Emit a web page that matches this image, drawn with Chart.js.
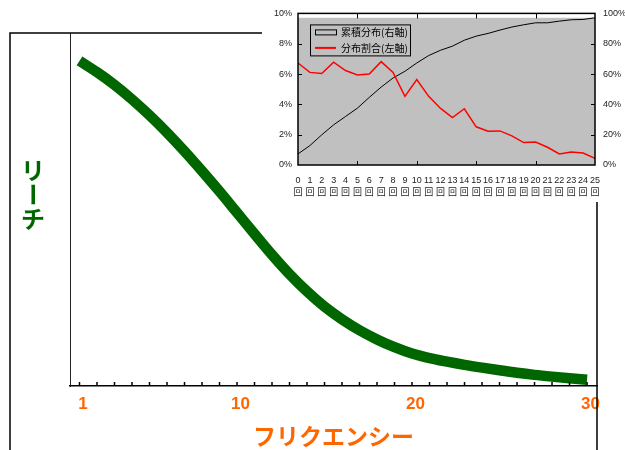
<!DOCTYPE html>
<html>
<head>
<meta charset="utf-8">
<script src="https://cdn.jsdelivr.net/npm/chart.js@4.4.1/dist/chart.umd.min.js"></script>
<style>
  html, body { margin: 0; padding: 0; background: #fff; }
  #wrap { position: relative; width: 625px; height: 450px; overflow: hidden; }
  #mainBox { position: absolute; left: 0; top: 0; width: 625px; height: 450px; }
  #insetBox { position: absolute; left: 262px; top: 0; width: 363px; height: 202px; background: #fff; }
</style>
</head>
<body>
<div id="wrap">
  <div id="mainBox"><canvas id="reachChart"></canvas></div>
  <div id="insetBox"><canvas id="distChart"></canvas></div>
</div>
<script>
// main chart: reach by frequency
var frequency = [1, 2, 3, 4, 5, 6, 7, 8, 9, 10, 11, 12, 13, 14, 15,
                 16, 17, 18, 19, 20, 21, 22, 23, 24, 25, 26, 27, 28, 29, 30];
var reach = [92.1, 88.9, 85.3, 81.2, 76.7, 71.8, 66.5, 60.9, 55.1, 49.1,
             43.1, 37.2, 31.7, 26.8, 22.5, 18.9, 15.8, 13.2, 11.0, 9.2,
             7.9, 6.9, 6.0, 5.2, 4.45, 3.75, 3.15, 2.65, 2.2, 1.8];
var freqLabels = [1, 10, 20, 30];
var reachTitle = 'リーチ';
var freqTitle = 'フリクエンシー';

// inset chart: contact count distribution
var contactCounts = ['0', '1', '2', '3', '4', '5', '6', '7', '8', '9', '10', '11', '12',
                     '13', '14', '15', '16', '17', '18', '19', '20', '21', '22', '23', '24', '25'];
var countUnit = '回';
var shareRatio = [6.73, 6.11, 6.03, 6.78, 6.23, 5.94, 6.00, 6.82, 6.11, 4.53, 5.63, 4.53, 3.73,
                  3.13, 3.71, 2.52, 2.23, 2.25, 1.92, 1.48, 1.52, 1.17, 0.73, 0.86, 0.79, 0.44];
var cumulative = [7.3, 12.8, 19.9, 26.5, 32.0, 37.5, 44.6, 51.4, 57.4, 61.8, 67.3, 72.2, 75.7,
                  78.4, 82.3, 85.0, 86.8, 89.0, 91.0, 92.5, 93.8, 93.8, 94.9, 95.8, 96.0, 97.1];
var leftAxisMax = 10;
var rightAxisMax = 100;
var cumulativeLabel = '累積分布(右軸)';
var shareLabel = '分布割合(左軸)';

const green = '#006600';
const orange = '#ff6600';
const plotGray = '#c0c0c0';
const jpFont = '"Noto Sans CJK JP", "Liberation Sans", sans-serif';
const smallFont = '"Liberation Sans", "Noto Sans CJK JP", sans-serif';

// frame around the main chart, inner tick marks and the upright y title
const mainDecor = {
    id: 'mainDecor',
    afterDraw(chart) {
        const { ctx, chartArea } = chart;
        const xs = chart.scales.x;
        ctx.save();
        ctx.strokeStyle = '#000';
        ctx.lineWidth = 1.5;
        ctx.beginPath();
        ctx.moveTo(10, chart.height);
        ctx.lineTo(10, chartArea.top);
        ctx.lineTo(chartArea.right, chartArea.top);
        ctx.lineTo(chartArea.right, chart.height);
        ctx.stroke();

        ctx.beginPath();
        xs.ticks.forEach(t => {
            const px = xs.getPixelForValue(t.value);
            ctx.moveTo(px, chartArea.bottom);
            ctx.lineTo(px, chartArea.bottom - 4);
        });
        ctx.stroke();

        ctx.fillStyle = green;
        ctx.font = 'bold 24px ' + jpFont;
        ctx.textAlign = 'center';
        ctx.textBaseline = 'middle';
        Array.from(reachTitle).forEach((ch, i) => {
            const cy = 170 + i * 24.5;
            ctx.save();
            ctx.translate(33, cy);
            if (ch === 'ー') ctx.rotate(Math.PI / 2);
            ctx.fillText(ch, 0, 0);
            ctx.restore();
        });
        ctx.restore();
    }
};

new Chart(document.getElementById('reachChart'), {
    type: 'line',
    data: {
        datasets: [{
            label: reachTitle,
            data: frequency.map((f, i) => ({ x: f, y: reach[i] })),
            borderColor: green,
            borderWidth: 10.5,
            borderCapStyle: 'butt',
            pointRadius: 0,
            cubicInterpolationMode: 'monotone',
            fill: false
        }]
    },
    options: {
        responsive: true,
        maintainAspectRatio: false,
        animation: false,
        layout: { padding: { top: 33, right: 28, left: 0, bottom: 0 } },
        plugins: { legend: { display: false }, tooltip: { enabled: false } },
        scales: {
            x: {
                type: 'linear',
                min: 0.457,
                max: 30.57,
                afterBuildTicks: s => { s.ticks = frequency.map(v => ({ value: v })); },
                afterFit: s => { s.height = 64; },
                ticks: {
                    autoSkip: false,
                    maxRotation: 0,
                    padding: 8,
                    labelOffset: 3.5,
                    color: orange,
                    font: { family: smallFont, size: 17, weight: 'bold' },
                    callback: v => freqLabels.includes(v) ? String(v) : ''
                },
                grid: { display: false, drawTicks: false },
                border: { display: true, color: '#000', width: 1.5 },
                title: {
                    display: true,
                    text: freqTitle,
                    color: orange,
                    font: { family: jpFont, size: 23, weight: 'bold' },
                    padding: { top: 0, bottom: 0 }
                }
            },
            y: {
                min: 0,
                max: 100,
                afterFit: s => { s.width = 70; },
                ticks: { display: false },
                grid: { display: false, drawTicks: false },
                border: { display: true, color: '#222', width: 1 }
            }
        }
    },
    plugins: [mainDecor]
});

// gray plot band, border, inner ticks and legend box of the inset
const insetDecor = {
    id: 'insetDecor',
    beforeDatasetsDraw(chart) {
        const { ctx, chartArea } = chart;
        const yTop = chart.scales.y1.getPixelForValue(Math.max(...cumulative));
        ctx.save();
        ctx.fillStyle = plotGray;
        ctx.fillRect(chartArea.left, yTop, chartArea.right - chartArea.left, chartArea.bottom - yTop);
        ctx.restore();
    },
    afterDatasetsDraw(chart) {
        const { ctx, chartArea } = chart;
        const { left, right, top, bottom } = chartArea;
        const xs = chart.scales.x, yl = chart.scales.y;
        ctx.save();
        ctx.strokeStyle = '#000';
        ctx.lineWidth = 1;
        ctx.beginPath();
        xs.ticks.forEach((t, i) => {
            if (i % 5 !== 0 || i === 0 || i === xs.ticks.length - 1) return;
            const px = Math.round(xs.getPixelForValue(i)) + 0.5;
            ctx.moveTo(px, bottom); ctx.lineTo(px, bottom - 4);
            ctx.moveTo(px, top); ctx.lineTo(px, top + 5);
        });
        yl.ticks.forEach(t => {
            if (t.value === 0 || t.value === leftAxisMax) return;
            const py = Math.round(yl.getPixelForValue(t.value)) + 0.5;
            ctx.moveTo(left, py); ctx.lineTo(left + 4, py);
            ctx.moveTo(right, py); ctx.lineTo(right - 4, py);
        });
        ctx.stroke();
        ctx.lineWidth = 1.5;
        ctx.strokeRect(left, top, right - left, bottom - top);

        // legend
        const lx = left + 12, ly = top + 11, lw = 100, lh = 31;
        ctx.fillStyle = plotGray;
        ctx.fillRect(lx, ly, lw, lh);
        ctx.lineWidth = 1;
        ctx.strokeStyle = '#000';
        ctx.strokeRect(lx + 0.5, ly + 0.5, lw, lh);
        ctx.font = '10px ' + jpFont;
        ctx.textBaseline = 'middle';
        ctx.textAlign = 'left';
        [1, 0].forEach((di, row) => {
            const ds = chart.data.datasets[di];
            const cy = ly + 8 + row * 15.5;
            if (di === 1) {
                ctx.fillStyle = plotGray;
                ctx.fillRect(lx + 5, cy - 2.5, 21, 5);
                ctx.strokeStyle = '#000';
                ctx.lineWidth = 1;
                ctx.strokeRect(lx + 5.5, cy - 2.5, 21, 5);
            } else {
                ctx.strokeStyle = ds.borderColor;
                ctx.lineWidth = 2;
                ctx.beginPath();
                ctx.moveTo(lx + 5, cy); ctx.lineTo(lx + 26, cy);
                ctx.stroke();
            }
            ctx.fillStyle = '#000';
            ctx.fillText(ds.label, lx + 31, cy);
        });
        ctx.restore();
    }
};

new Chart(document.getElementById('distChart'), {
    type: 'line',
    data: {
        labels: contactCounts,
        datasets: [{
            label: shareLabel,
            data: shareRatio,
            yAxisID: 'y',
            borderColor: '#ff0000',
            borderWidth: 1.5,
            pointRadius: 0,
            tension: 0,
            fill: false
        }, {
            label: cumulativeLabel,
            data: cumulative,
            yAxisID: 'y1',
            borderColor: '#000',
            borderWidth: 1,
            pointRadius: 0,
            tension: 0,
            fill: false
        }]
    },
    options: {
        responsive: true,
        maintainAspectRatio: false,
        animation: false,
        layout: { padding: { top: 12, left: 0, right: 0, bottom: 0 } },
        plugins: { legend: { display: false }, tooltip: { enabled: false } },
        scales: {
            x: {
                offset: false,
                afterFit: s => { s.height = 37; },
                ticks: {
                    autoSkip: false,
                    maxRotation: 0,
                    padding: 10,
                    color: '#222',
                    font: { family: smallFont, size: 9, lineHeight: 1.3 },
                    callback: function (v) { return [this.getLabelForValue(v), countUnit]; }
                },
                grid: { display: false, drawTicks: false },
                border: { display: false }
            },
            y: {
                position: 'left',
                min: 0,
                max: leftAxisMax,
                afterFit: s => { s.width = 36; },
                ticks: {
                    stepSize: 2,
                    padding: 6,
                    color: '#222',
                    font: { family: smallFont, size: 9 },
                    callback: v => v + '%'
                },
                grid: { display: false, drawTicks: false },
                border: { display: false }
            },
            y1: {
                position: 'right',
                min: 0,
                max: rightAxisMax,
                afterFit: s => { s.width = 30; },
                ticks: {
                    stepSize: 20,
                    padding: 8,
                    color: '#222',
                    font: { family: smallFont, size: 9 },
                    callback: v => v + '%'
                },
                grid: { display: false, drawTicks: false },
                border: { display: false }
            }
        }
    },
    plugins: [insetDecor]
});
</script>
</body>
</html>
